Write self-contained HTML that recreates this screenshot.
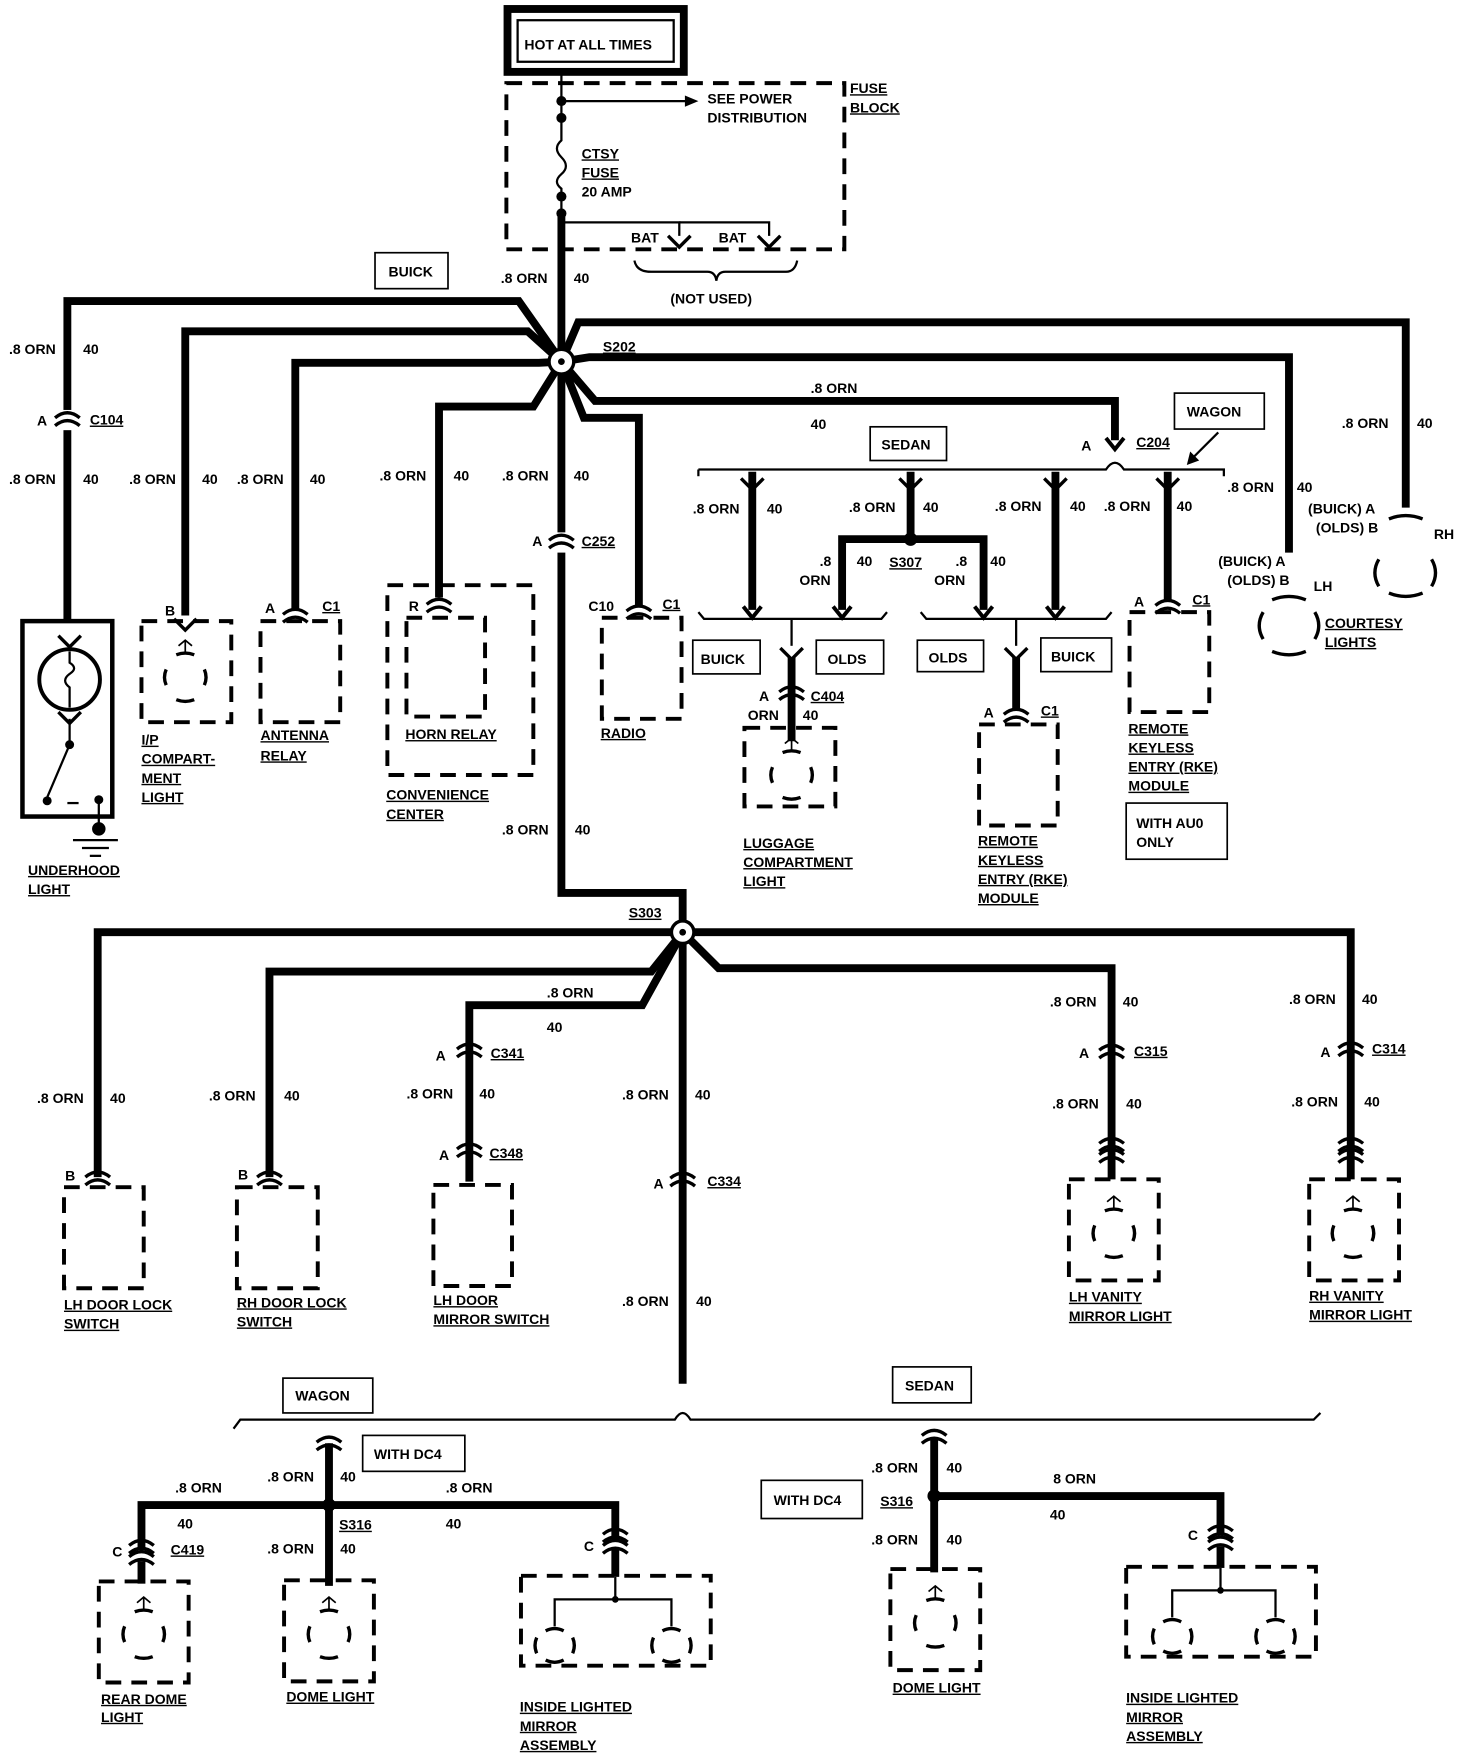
<!DOCTYPE html>
<html><head><meta charset="utf-8"><style>
html,body{margin:0;padding:0;background:#fff;}
svg{display:block;}
text{font-family:"Liberation Sans",sans-serif;font-weight:bold;font-size:12.5px;fill:#000;}
.u{text-decoration:underline;}
.w{fill:none;stroke:#000;stroke-width:7;stroke-linejoin:miter;}
.t{fill:none;stroke:#000;stroke-width:2;}
.d{fill:none;stroke:#000;stroke-width:3.5;stroke-dasharray:14 9;}
.b{fill:#fff;stroke:#000;stroke-width:1.5;}
</style></head><body>
<svg width="1472" height="1760" viewBox="0 0 1311 1567" preserveAspectRatio="none" xmlns="http://www.w3.org/2000/svg">
<defs>
<g id="cn"><path d="M-11 -2 Q0 -11 11 -2" fill="none" stroke="#000" stroke-width="3"/><path d="M-11 5 Q0 -4 11 5" fill="none" stroke="#000" stroke-width="3"/></g>
<g id="fm"><path d="M-10 -6 L0 4 L10 -6" fill="none" stroke="#000" stroke-width="3"/></g>
<g id="ar"><path d="M-8 -8 L0 2 L8 -8" fill="none" stroke="#000" stroke-width="3.5"/></g>
<g id="bulb"><path d="M-8 -20 Q0 -23 8 -20 M-8 20 Q0 23 8 20 M-17 -7 Q-20 0 -17 7 M17 -7 Q20 0 17 7" fill="none" stroke="#000" stroke-width="3"/><path d="M0 -22 L0 -32 M-6 -28 L0 -33 L6 -28" fill="none" stroke="#000" stroke-width="1.5"/></g>
</defs>

<!-- HOT AT ALL TIMES -->
<rect x="452" y="8" width="157" height="56" fill="none" stroke="#000" stroke-width="7"/>
<rect x="461" y="18" width="139" height="37" fill="none" stroke="#000" stroke-width="2"/>
<text x="467" y="44">HOT AT ALL TIMES</text>

<!-- fuse block -->
<rect x="451" y="74" width="301" height="148" class="d"/>
<text x="757" y="83" class="u">FUSE</text><text x="757" y="100" class="u">BLOCK</text>
<line x1="500" y1="67" x2="500" y2="105" class="t" stroke-width="3"/>
<circle cx="500" cy="90" r="4.5"/><circle cx="500" cy="105" r="4.5"/>
<line x1="500" y1="90" x2="612" y2="90" class="t"/><path d="M610 85 L622 90 L610 95Z"/>
<text x="630" y="92">SEE POWER</text><text x="630" y="109">DISTRIBUTION</text>
<path d="M500 105 L500 125 Q492 132 500 140 Q508 148 500 155 Q492 162 500 168 L500 190" class="t"/>
<circle cx="500" cy="175" r="4.5"/><circle cx="500" cy="190" r="4.5"/>
<text x="518" y="141" class="u">CTSY</text><text x="518" y="158" class="u">FUSE</text><text x="518" y="175">20 AMP</text>
<polyline points="500,198 605,198 605,210" class="t"/><polyline points="605,198 685,198 685,210" class="t"/>
<use href="#fm" x="605" y="216"/><use href="#fm" x="685" y="216"/>
<text x="562" y="216">BAT</text><text x="640" y="216">BAT</text>
<path d="M565 232 Q567 242 580 242 L630 242 Q637 242 638 250 Q639 242 646 242 L700 242 Q708 242 710 232" class="t"/>
<text x="597" y="270">(NOT USED)</text>
<text x="446" y="252">.8 ORN</text><text x="511" y="252">40</text>
<rect x="334" y="225" width="65" height="32" class="b"/><text x="346" y="246">BUICK</text>

<!-- main vertical to S202 -->
<line x1="500" y1="190" x2="500" y2="322" class="w"/>
<!-- branches from S202 -->
<polyline points="500,322 462,268 60,268 60,552" class="w"/>
<polyline points="500,322 470,295 165,295 165,548" class="w"/>
<polyline points="500,322 480,323 263,323 263,542" class="w"/>
<polyline points="500,322 475,362 391,362 391,532" class="w"/>
<polyline points="500,322 500,795 608,795 608,830" class="w"/>
<polyline points="500,322 520,372 569,372 569,540" class="w"/>
<polyline points="500,322 530,357 993,357 993,392" class="w"/>
<polyline points="500,322 525,318 1148,318 1148,492" class="w"/>
<polyline points="500,322 515,287 1252,287 1252,452" class="w"/>
<circle cx="500" cy="322" r="11" fill="#fff" stroke="#000" stroke-width="3"/><circle cx="500" cy="322" r="3"/>
<text x="537" y="313" class="u">S202</text>

<!-- underhood -->
<text x="8" y="315">.8 ORN</text><text x="74" y="315">40</text>
<rect x="54" y="365" width="12" height="18" fill="#fff"/><use href="#cn" x="60" y="374"/>
<text x="33" y="379">A</text><text x="80" y="378" class="u">C104</text>
<text x="8" y="431">.8 ORN</text><text x="74" y="431">40</text>
<rect x="20" y="553" width="80" height="174" fill="none" stroke="#000" stroke-width="4"/>
<use href="#fm" x="62" y="572"/>
<circle cx="62" cy="605" r="27" fill="none" stroke="#000" stroke-width="3.5"/>
<path d="M62 580 L62 590 Q70 595 62 600 Q54 606 62 612 L62 630" class="t"/>
<use href="#fm" x="62" y="640"/><line x1="62" y1="640" x2="62" y2="662" class="t"/><circle cx="62" cy="663" r="4"/>
<line x1="62" y1="663" x2="42" y2="710" class="t"/><circle cx="42" cy="713" r="4"/><line x1="60" y1="715" x2="70" y2="715" class="t"/>
<circle cx="88" cy="712" r="4"/><line x1="88" y1="712" x2="88" y2="742" class="t"/><circle cx="88" cy="738" r="6"/>
<line x1="65" y1="748" x2="105" y2="748" class="t"/><line x1="73" y1="755" x2="97" y2="755" class="t"/><line x1="80" y1="762" x2="90" y2="762" class="t"/>
<text x="25" y="779" class="u">UNDERHOOD</text><text x="25" y="796" class="u">LIGHT</text>

<!-- I/P -->
<text x="115" y="431">.8 ORN</text><text x="180" y="431">40</text>
<text x="147" y="548">B</text><use href="#fm" x="165" y="557"/>
<rect x="126" y="553" width="80" height="90" class="d"/><use href="#bulb" x="165" y="603"/>
<text x="126" y="663" class="u">I/P</text><text x="126" y="680" class="u">COMPART-</text><text x="126" y="697" class="u">MENT</text><text x="126" y="714" class="u">LIGHT</text>

<!-- antenna -->
<text x="211" y="431">.8 ORN</text><text x="276" y="431">40</text>
<text x="236" y="546">A</text><text x="287" y="544" class="u">C1</text><use href="#cn" x="263" y="549"/>
<rect x="232" y="553" width="71" height="90" class="d"/>
<text x="232" y="659" class="u">ANTENNA</text><text x="232" y="677" class="u">RELAY</text>

<!-- horn relay -->
<text x="338" y="428">.8 ORN</text><text x="404" y="428">40</text>
<rect x="345" y="521" width="130" height="169" class="d"/>
<rect x="362" y="550" width="70" height="88" class="d"/>
<text x="364" y="544">R</text><use href="#cn" x="391" y="540"/>
<text x="361" y="658" class="u">HORN RELAY</text>
<text x="344" y="712" class="u">CONVENIENCE</text><text x="344" y="729" class="u">CENTER</text>

<!-- center -->
<text x="447" y="428">.8 ORN</text><text x="511" y="428">40</text>
<rect x="494" y="474" width="12" height="18" fill="#fff"/><use href="#cn" x="500" y="483"/>
<text x="474" y="486">A</text><text x="518" y="486" class="u">C252</text>
<text x="447" y="743">.8 ORN</text><text x="512" y="743">40</text>

<!-- radio -->
<text x="524" y="544">C10</text><text x="590" y="542" class="u">C1</text><use href="#cn" x="569" y="546"/>
<rect x="536" y="550" width="71" height="90" class="d"/><text x="535" y="657" class="u">RADIO</text>

<!-- C204 area -->
<text x="722" y="350">.8 ORN</text><text x="722" y="382">40</text>
<use href="#ar" x="993" y="398"/>
<text x="963" y="401">A</text><text x="1012" y="398" class="u">C204</text>
<path d="M622 418 L985 418 Q993 406 1001 418 L1090 418 L1090 424" class="t"/>
<path d="M622 418 L622 424" class="t"/>
<rect x="1046" y="350" width="80" height="32" class="b"/><text x="1057" y="371">WAGON</text>
<line x1="1085" y1="385" x2="1062" y2="408" class="t"/><path d="M1057 414 L1060 402 L1068 410Z"/>
<rect x="775" y="380" width="68" height="30" class="b"/><text x="785" y="400">SEDAN</text>

<polyline points="670,420 670,543" class="w"/><use href="#fm" x="670" y="432"/><use href="#ar" x="670" y="548"/>
<text x="617" y="457">.8 ORN</text><text x="683" y="457">40</text>
<polyline points="811,420 811,480" class="w"/><use href="#fm" x="811" y="432"/>
<text x="756" y="456">.8 ORN</text><text x="822" y="456">40</text>
<polyline points="750,543 750,480 876,480 876,543" class="w"/><circle cx="811" cy="480" r="6"/>
<use href="#ar" x="750" y="548"/><use href="#ar" x="876" y="548"/>
<text x="792" y="505" class="u">S307</text>
<text x="730" y="504">.8</text><text x="712" y="521">ORN</text><text x="763" y="504">40</text>
<text x="851" y="504">.8</text><text x="832" y="521">ORN</text><text x="882" y="504">40</text>
<polyline points="940,420 940,543" class="w"/><use href="#fm" x="940" y="432"/><use href="#ar" x="940" y="548"/>
<text x="886" y="455">.8 ORN</text><text x="953" y="455">40</text>
<polyline points="1040,420 1040,536" class="w"/><use href="#fm" x="1040" y="432"/>
<text x="983" y="455">.8 ORN</text><text x="1048" y="455">40</text>
<text x="1010" y="540">A</text><text x="1062" y="538" class="u">C1</text><use href="#cn" x="1040" y="541"/>
<rect x="1006" y="545" width="71" height="89" class="d"/>
<text x="1005" y="653" class="u">REMOTE</text><text x="1005" y="670" class="u">KEYLESS</text><text x="1005" y="687" class="u">ENTRY (RKE)</text><text x="1005" y="704" class="u">MODULE</text>
<rect x="1003" y="715" width="90" height="50" class="b"/><text x="1012" y="737">WITH AU0</text><text x="1012" y="754">ONLY</text>

<!-- selector brackets -->
<path d="M622 545 L627 551 L785 551 L790 545" class="t"/><line x1="705" y1="551" x2="705" y2="575" class="t"/>
<rect x="617" y="570" width="60" height="30" class="b"/><text x="624" y="591">BUICK</text>
<rect x="727" y="570" width="60" height="30" class="b"/><text x="737" y="591">OLDS</text>
<use href="#fm" x="705" y="583"/><line x1="705" y1="585" x2="705" y2="660" class="w"/>
<use href="#cn" x="705" y="618"/><text x="676" y="624">A</text><text x="722" y="624" class="u">C404</text>
<text x="666" y="641">ORN</text><text x="715" y="641">40</text>
<rect x="663" y="648" width="81" height="70" class="d"/><use href="#bulb" x="705" y="690"/>
<text x="662" y="755" class="u">LUGGAGE</text><text x="662" y="772" class="u">COMPARTMENT</text><text x="662" y="789" class="u">LIGHT</text>

<path d="M820 545 L825 551 L985 551 L990 545" class="t"/><line x1="905" y1="551" x2="905" y2="575" class="t"/>
<rect x="817" y="570" width="59" height="28" class="b"/><text x="827" y="590">OLDS</text>
<rect x="927" y="568" width="63" height="30" class="b"/><text x="936" y="589">BUICK</text>
<use href="#fm" x="905" y="583"/><line x1="905" y1="585" x2="905" y2="632" class="w"/>
<use href="#cn" x="905" y="638"/><text x="876" y="639">A</text><text x="927" y="637" class="u">C1</text>
<rect x="872" y="645" width="70" height="90" class="d"/>
<text x="871" y="753" class="u">REMOTE</text><text x="871" y="770" class="u">KEYLESS</text><text x="871" y="787" class="u">ENTRY (RKE)</text><text x="871" y="804" class="u">MODULE</text>

<!-- courtesy lights -->
<text x="1093" y="438">.8 ORN</text><text x="1155" y="438">40</text>
<text x="1085" y="504">(BUICK)  A</text><text x="1093" y="521">(OLDS)  B</text>
<text x="1170" y="526">LH</text>
<path d="M1133 534 Q1148 528 1163 534 M1133 580 Q1148 586 1163 580 M1125 545 Q1118 557 1125 569 M1171 545 Q1178 557 1171 569" fill="none" stroke="#000" stroke-width="3"/>
<text x="1195" y="381">.8 ORN</text><text x="1262" y="381">40</text>
<text x="1165" y="457">(BUICK)  A</text><text x="1172" y="474">(OLDS)  B</text>
<text x="1277" y="480">RH</text>
<path d="M1237 462 Q1252 456 1267 462 M1237 528 Q1252 534 1267 528 M1228 498 Q1221 510 1228 522 M1275 498 Q1282 510 1275 522" fill="none" stroke="#000" stroke-width="3"/>
<text x="1180" y="559" class="u">COURTESY</text><text x="1180" y="576" class="u">LIGHTS</text>

<!-- S303 branches -->
<polyline points="608,830 87,830 87,1048" class="w"/>
<polyline points="608,830 580,865 240,865 240,1048" class="w"/>
<polyline points="608,830 572,895 418,895 418,1052" class="w"/>
<polyline points="608,830 608,1232" class="w"/>
<polyline points="608,830 640,862 990,862 990,1050" class="w"/>
<polyline points="608,830 1203,830 1203,1050" class="w"/>
<circle cx="608" cy="830" r="10" fill="#fff" stroke="#000" stroke-width="3"/><circle cx="608" cy="830" r="3"/>
<text x="560" y="817" class="u">S303</text>

<text x="33" y="982">.8 ORN</text><text x="98" y="982">40</text>
<text x="58" y="1051">B</text><use href="#cn" x="87" y="1050"/>
<rect x="57" y="1057" width="71" height="90" class="d"/>
<text x="57" y="1166" class="u">LH DOOR LOCK</text><text x="57" y="1183" class="u">SWITCH</text>

<text x="186" y="980">.8 ORN</text><text x="253" y="980">40</text>
<text x="212" y="1050">B</text><use href="#cn" x="240" y="1050"/>
<rect x="211" y="1057" width="72" height="90" class="d"/>
<text x="211" y="1164" class="u">RH DOOR LOCK</text><text x="211" y="1181" class="u">SWITCH</text>

<text x="487" y="888">.8 ORN</text><text x="487" y="919">40</text>
<use href="#cn" x="418" y="936"/><text x="388" y="944">A</text><text x="437" y="942" class="u">C341</text>
<text x="362" y="978">.8 ORN</text><text x="427" y="978">40</text>
<use href="#cn" x="418" y="1025"/><text x="391" y="1033">A</text><text x="436" y="1031" class="u">C348</text>
<rect x="386" y="1055" width="70" height="90" class="d"/>
<text x="386" y="1162" class="u">LH DOOR</text><text x="386" y="1179" class="u">MIRROR SWITCH</text>

<text x="554" y="979">.8 ORN</text><text x="619" y="979">40</text>
<use href="#cn" x="608" y="1051"/><text x="582" y="1058">A</text><text x="630" y="1056" class="u">C334</text>
<text x="554" y="1163">.8 ORN</text><text x="620" y="1163">40</text>
<path d="M208 1272 L214 1264 L601 1264 Q608 1252 615 1264 L1170 1264 L1176 1258" class="t"/>
<rect x="252" y="1227" width="80" height="31" class="b"/><text x="263" y="1247">WAGON</text>
<rect x="795" y="1217" width="70" height="32" class="b"/><text x="806" y="1238">SEDAN</text>

<text x="935" y="896">.8 ORN</text><text x="1000" y="896">40</text>
<use href="#cn" x="990" y="937"/><text x="961" y="942">A</text><text x="1010" y="940" class="u">C315</text>
<text x="937" y="987">.8 ORN</text><text x="1003" y="987">40</text>
<use href="#cn" x="990" y="1020"/><use href="#cn" x="990" y="1030"/>
<rect x="952" y="1050" width="80" height="90" class="d"/><use href="#bulb" x="992" y="1098"/>
<text x="952" y="1159" class="u">LH VANITY</text><text x="952" y="1176" class="u">MIRROR LIGHT</text>

<text x="1148" y="894">.8 ORN</text><text x="1213" y="894">40</text>
<use href="#cn" x="1203" y="935"/><text x="1176" y="941">A</text><text x="1222" y="938" class="u">C314</text>
<text x="1150" y="985">.8 ORN</text><text x="1215" y="985">40</text>
<use href="#cn" x="1203" y="1020"/><use href="#cn" x="1203" y="1030"/>
<rect x="1166" y="1050" width="80" height="90" class="d"/><use href="#bulb" x="1205" y="1098"/>
<text x="1166" y="1158" class="u">RH VANITY</text><text x="1166" y="1175" class="u">MIRROR LIGHT</text>

<!-- wagon -->
<polyline points="293,1285 293,1412" class="w"/><use href="#cn" x="293" y="1286"/>
<polyline points="126,1378 126,1340 548,1340 548,1372" class="w"/>
<circle cx="293" cy="1340" r="6"/>
<text x="238" y="1319">.8 ORN</text><text x="303" y="1319">40</text>
<rect x="323" y="1278" width="91" height="32" class="b"/><text x="333" y="1299">WITH DC4</text>
<text x="302" y="1362" class="u">S316</text>
<text x="238" y="1383">.8 ORN</text><text x="303" y="1383">40</text>
<text x="156" y="1329">.8 ORN</text><text x="158" y="1361">40</text>
<text x="397" y="1329">.8 ORN</text><text x="397" y="1361">40</text>
<use href="#cn" x="126" y="1378"/><use href="#cn" x="126" y="1388"/><line x1="126" y1="1390" x2="126" y2="1410" class="w"/>
<text x="100" y="1386">C</text><text x="152" y="1384" class="u">C419</text>
<use href="#cn" x="548" y="1368"/><use href="#cn" x="548" y="1378"/><line x1="548" y1="1380" x2="548" y2="1404" class="w"/>
<text x="520" y="1381">C</text>
<rect x="88" y="1408" width="80" height="90" class="d"/><use href="#bulb" x="128" y="1455"/>
<rect x="253" y="1407" width="80" height="90" class="d"/><use href="#bulb" x="293" y="1455"/>
<rect x="464" y="1403" width="169" height="80" class="d"/>
<polyline points="548,1404 548,1424" class="t"/><circle cx="548" cy="1424" r="3"/>
<polyline points="494,1448 494,1424 598,1424 598,1448" class="t"/>
<path d="M486 1452 Q494 1448 502 1452 M486 1478 Q494 1482 502 1478 M478 1458 Q475 1465 478 1472 M510 1458 Q513 1465 510 1472 M590 1452 Q598 1448 606 1452 M590 1478 Q598 1482 606 1478 M582 1458 Q579 1465 582 1472 M614 1458 Q617 1465 614 1472" fill="none" stroke="#000" stroke-width="3"/>
<text x="90" y="1517" class="u">REAR DOME</text><text x="90" y="1533" class="u">LIGHT</text>
<text x="255" y="1515" class="u">DOME LIGHT</text>
<text x="463" y="1524" class="u">INSIDE LIGHTED</text><text x="463" y="1541" class="u">MIRROR</text><text x="463" y="1558" class="u">ASSEMBLY</text>

<!-- sedan -->
<polyline points="832,1280 832,1400" class="w"/><use href="#cn" x="832" y="1280"/>
<polyline points="832,1332 1087,1332 1087,1365" class="w"/>
<circle cx="832" cy="1332" r="6"/>
<text x="776" y="1311">.8 ORN</text><text x="843" y="1311">40</text>
<rect x="678" y="1318" width="90" height="34" class="b"/><text x="689" y="1340">WITH DC4</text>
<text x="784" y="1341" class="u">S316</text>
<text x="776" y="1375">.8 ORN</text><text x="843" y="1375">40</text>
<text x="938" y="1321">8 ORN</text><text x="935" y="1353">40</text>
<use href="#cn" x="1087" y="1365"/><use href="#cn" x="1087" y="1375"/><line x1="1087" y1="1377" x2="1087" y2="1396" class="w"/>
<text x="1058" y="1371">C</text>
<rect x="793" y="1397" width="80" height="90" class="d"/><use href="#bulb" x="833" y="1445"/>
<text x="795" y="1507" class="u">DOME LIGHT</text>
<rect x="1003" y="1395" width="169" height="80" class="d"/>
<polyline points="1087,1396 1087,1416" class="t"/><circle cx="1087" cy="1416" r="3"/>
<polyline points="1044,1440 1044,1416 1136,1416 1136,1440" class="t"/>
<path d="M1036 1444 Q1044 1440 1052 1444 M1036 1470 Q1044 1474 1052 1470 M1028 1450 Q1025 1457 1028 1464 M1060 1450 Q1063 1457 1060 1464 M1128 1444 Q1136 1440 1144 1444 M1128 1470 Q1136 1474 1144 1470 M1120 1450 Q1117 1457 1120 1464 M1152 1450 Q1155 1457 1152 1464" fill="none" stroke="#000" stroke-width="3"/>
<text x="1003" y="1516" class="u">INSIDE LIGHTED</text><text x="1003" y="1533" class="u">MIRROR</text><text x="1003" y="1550" class="u">ASSEMBLY</text>
</svg>
</body></html>
